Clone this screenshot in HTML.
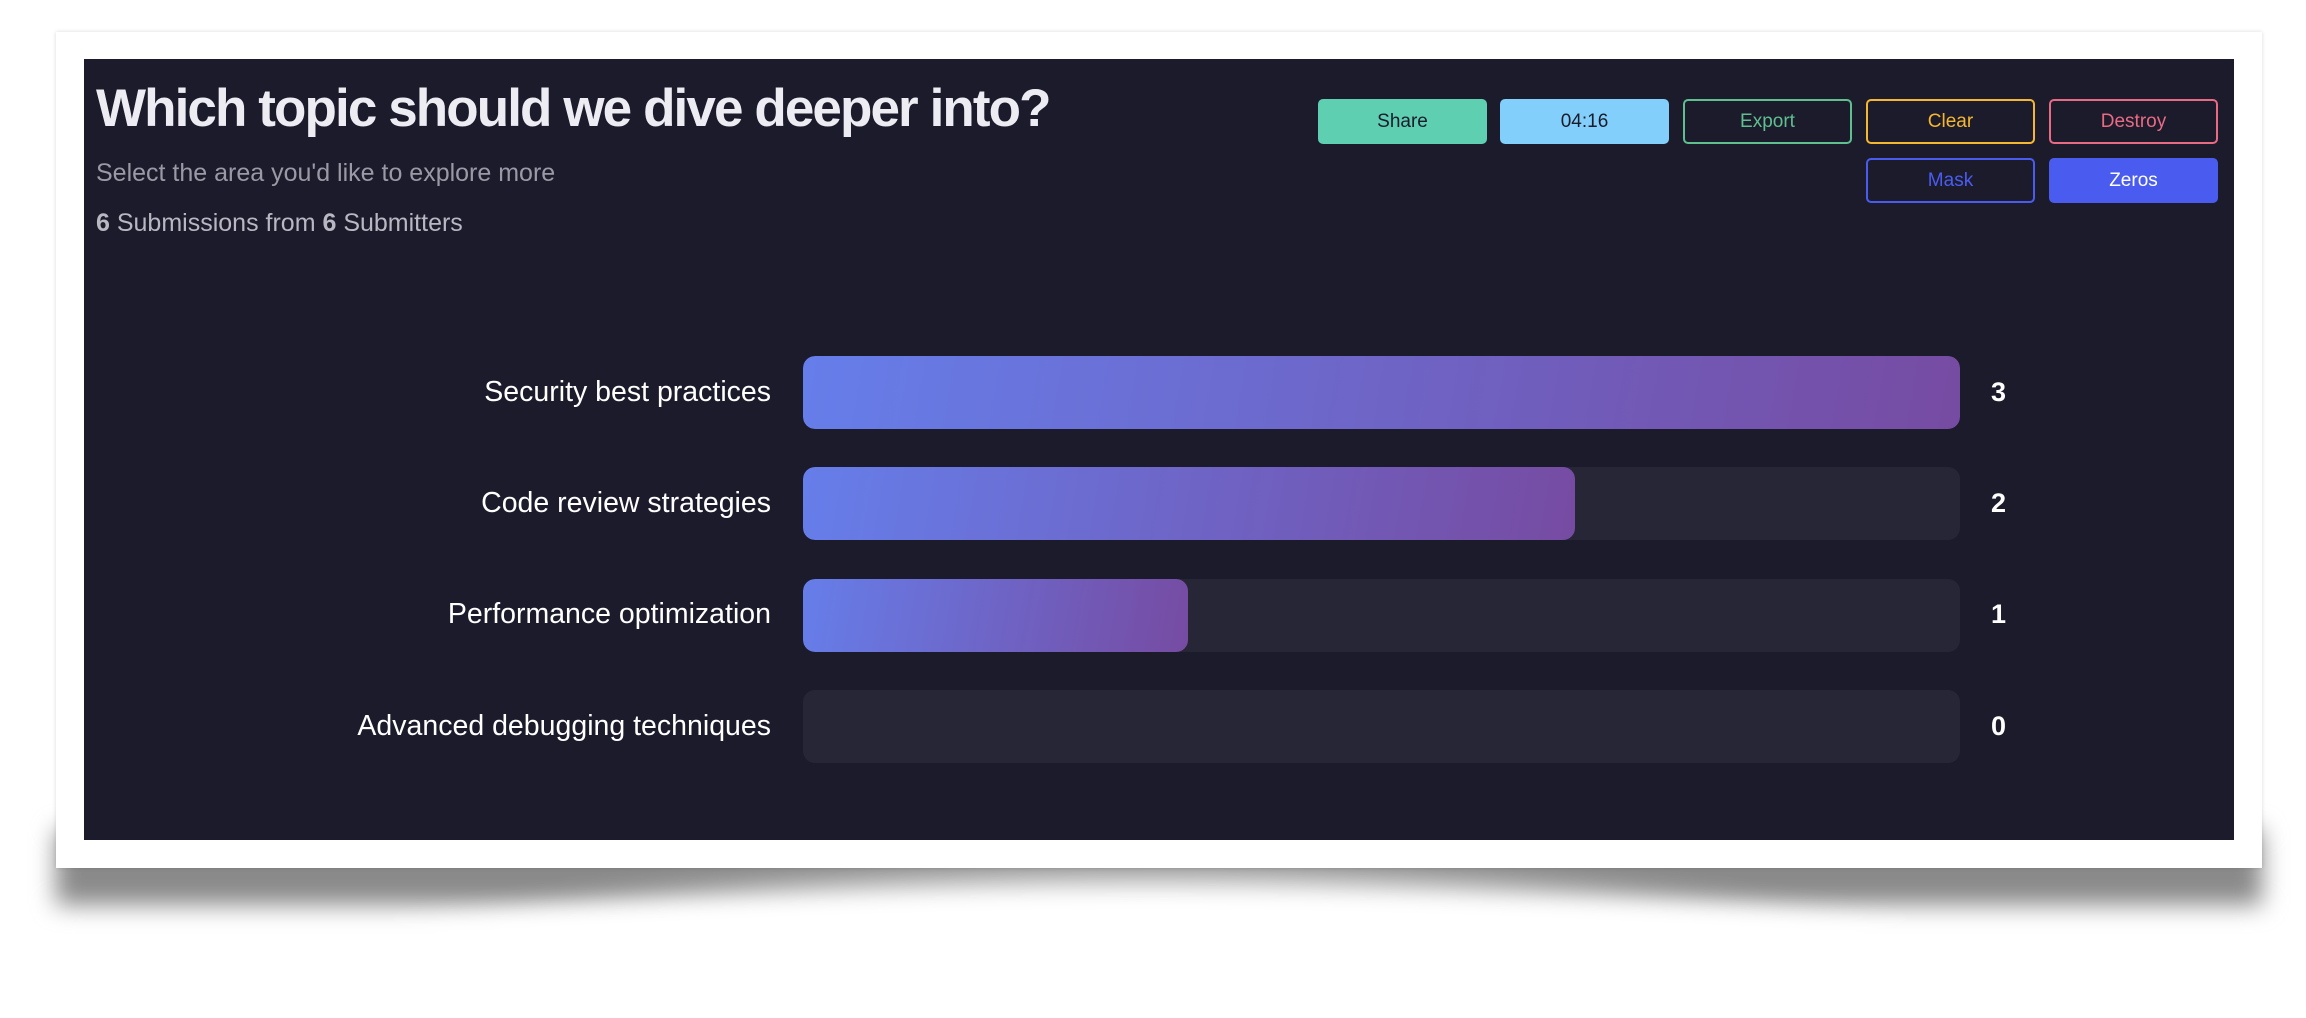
<!DOCTYPE html>
<html><head><meta charset="utf-8"><style>
html,body{margin:0;padding:0;width:2306px;height:958px;background:#fff;overflow:hidden;font-family:"Liberation Sans",sans-serif;}
.shadow{position:absolute;left:56px;top:830px;width:2206px;height:75px;background:#8a8a8a;filter:blur(12px);}
.shadowmask{position:absolute;left:250px;top:878px;width:1800px;height:140px;background:#fff;border-radius:50% 50% 0 0/100% 100% 0 0;filter:blur(16px);}
.card{position:absolute;left:56px;top:32px;width:2206px;height:836px;background:#fff;box-shadow:0 0 4px rgba(0,0,0,0.15);}
.panel{position:absolute;left:84px;top:59px;width:2150px;height:781px;background:#1b1b2c;}
.title{position:absolute;left:96px;top:78px;font-size:53px;font-weight:bold;color:#ececf2;white-space:nowrap;letter-spacing:-1.9px;}
.sub{position:absolute;left:96px;top:159px;font-size:25px;color:#9a9aa6;}
.subs{position:absolute;left:96px;top:209px;font-size:25px;color:#b8b8c2;}
.btn{position:absolute;width:169px;height:45px;border-radius:5px;box-sizing:border-box;font-size:19px;display:flex;align-items:center;justify-content:center;}
.lbl{position:absolute;right:1535px;font-size:28.5px;color:#fff;white-space:nowrap;}
.track{position:absolute;left:803px;width:1157px;height:73px;border-radius:12px;background:#262637;overflow:hidden;}
.fill{height:100%;border-radius:12px;background:linear-gradient(100deg,#667eea,#764ba2);}
.val{position:absolute;left:1991px;font-size:27px;font-weight:bold;color:#fff;}
</style></head><body>
<div class="shadow"></div>
<div class="shadowmask"></div>
<div class="card"></div>
<div class="panel"></div>
<div class="title">Which topic should we dive deeper into?</div>
<div class="sub">Select the area you'd like to explore more</div>
<div class="subs"><b>6</b> Submissions from <b>6</b> Submitters</div>

<div class="btn" style="left:1318px;top:99px;background:#5ecfb1;color:#1b1b2c">Share</div>
<div class="btn" style="left:1500px;top:99px;background:#81cffa;color:#1b1b2c">04:16</div>
<div class="btn" style="left:1683px;top:99px;border:2px solid #5fbf8e;color:#5fbf8e">Export</div>
<div class="btn" style="left:1866px;top:99px;border:2px solid #f5b730;color:#f5b730">Clear</div>
<div class="btn" style="left:2049px;top:99px;border:2px solid #e96a82;color:#e96a82">Destroy</div>
<div class="btn" style="left:1866px;top:158px;border:2px solid #4a5cf0;color:#4a5cf0">Mask</div>
<div class="btn" style="left:2049px;top:158px;background:#4a5cf0;color:#fff">Zeros</div>

<div class="lbl" style="top:376px">Security best practices</div>
<div class="track" style="top:356px"><div class="fill" style="width:1157px"></div></div>
<div class="val" style="top:377px">3</div>

<div class="lbl" style="top:487px">Code review strategies</div>
<div class="track" style="top:467px"><div class="fill" style="width:772px"></div></div>
<div class="val" style="top:488px">2</div>

<div class="lbl" style="top:598px">Performance optimization</div>
<div class="track" style="top:579px"><div class="fill" style="width:385px"></div></div>
<div class="val" style="top:599px">1</div>

<div class="lbl" style="top:710px">Advanced debugging techniques</div>
<div class="track" style="top:690px"></div>
<div class="val" style="top:711px">0</div>
</body></html>
